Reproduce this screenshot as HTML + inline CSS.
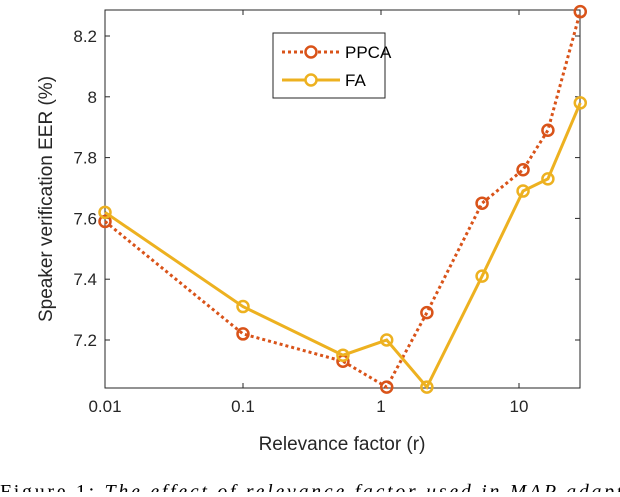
<!DOCTYPE html>
<html><head><meta charset="utf-8"><style>
body{margin:0;background:#fff;width:620px;height:492px;overflow:hidden;font-family:"Liberation Sans",sans-serif}
</style></head><body>
<svg id="c" width="620" height="492" xmlns="http://www.w3.org/2000/svg"></svg>
<script>
const xValues=[0.01,0.1,0.53,1.1,2.15,5.4,10.7,16.2,27.8];
const ppcaValues=[7.59,7.22,7.13,7.045,7.29,7.65,7.76,7.89,8.28];
const faValues=[7.62,7.31,7.15,7.20,7.045,7.41,7.69,7.73,7.98];
const xTicks=[0.01,0.1,1,10];
const xTickLabels=["0.01","0.1","1","10"];
const yTicks=[7.2,7.4,7.6,7.8,8,8.2];
const yTickLabels=["7.2","7.4","7.6","7.8","8","8.2"];
const L=105,R=580,T=10,B=388;
const xs=v=>L+(Math.log10(v)+2)*138;
const ys=v=>340-(v-7.2)/0.2*60.8;
const svg=document.getElementById('c');const NS="http://www.w3.org/2000/svg";
function el(t,a,p){const e=document.createElementNS(NS,t);for(const k in a)e.setAttribute(k,a[k]);(p||svg).appendChild(e);return e;}
const frame=el('rect',{x:L,y:T,width:R-L,height:B-T,fill:'none',stroke:'#262626','stroke-width':1});

xTicks.forEach((t,i)=>{const x=xs(t);
el('line',{x1:x,x2:x,y1:B,y2:B-5,stroke:'#262626'});el('line',{x1:x,x2:x,y1:T,y2:T+5,stroke:'#262626'});
const tx=el('text',{x:x,y:B+24,'font-size':17,'text-anchor':'middle',fill:'#262626'});tx.textContent=xTickLabels[i];
});
yTicks.forEach((t,i)=>{const y=ys(t);
el('line',{x1:L,x2:L+5,y1:y,y2:y,stroke:'#262626'});el('line',{x1:R,x2:R-5,y1:y,y2:y,stroke:'#262626'});
const tx=el('text',{x:L-8,y:y+6,'font-size':17,'text-anchor':'end',fill:'#262626'});tx.textContent=yTickLabels[i];
});
const xt=el('text',{x:342,y:450,'font-size':19,'text-anchor':'middle',fill:'#262626'});xt.textContent='Relevance factor (r)';

const yt=el('text',{x:0,y:0,'font-size':19,'text-anchor':'middle',fill:'#262626',transform:'translate(52,199) rotate(-90)'});yt.textContent='Speaker verification EER (%)';

function series(vals,color,dash,name){
const pts=vals.map((v,i)=>xs(xValues[i])+','+ys(v)).join(' ');
const pl=el('polyline',{points:pts,fill:'none',stroke:color,'stroke-width':3,'stroke-dasharray':dash});

vals.forEach((v,i)=>{const c=el('circle',{cx:xs(xValues[i]),cy:ys(v),r:5.5,fill:'none',stroke:color,'stroke-width':2.5});
});}
series(ppcaValues,'#D95319','3 3','ppca');
series(faValues,'#EDB120','','fa');
const lg=el('g',{});
el('rect',{x:273,y:33,width:112,height:65,fill:'#fff',stroke:'#262626'},lg);
el('line',{x1:282,x2:340,y1:52,y2:52,stroke:'#D95319','stroke-width':3,'stroke-dasharray':'3 3'},lg);
el('circle',{cx:311,cy:52,r:5.5,fill:'#fff',stroke:'#D95319','stroke-width':2.5},lg);
el('line',{x1:282,x2:340,y1:80,y2:80,stroke:'#EDB120','stroke-width':3},lg);
el('circle',{cx:311,cy:80,r:5.5,fill:'#fff',stroke:'#EDB120','stroke-width':2.5},lg);
const t1=el('text',{x:345,y:58,'font-size':17,fill:'#000'},lg);t1.textContent='PPCA';

const t2=el('text',{x:345,y:86,'font-size':17,fill:'#000'},lg);t2.textContent='FA';

const cap=el('text',{x:0,y:498,'font-size':20,fill:'#000','font-family':'Liberation Serif',textLength:635,lengthAdjust:'spacing'});
cap.innerHTML='Figure 1: <tspan font-style="italic">The effect of relevance factor used in MAP adapta</tspan>';

</script>
</body></html>
